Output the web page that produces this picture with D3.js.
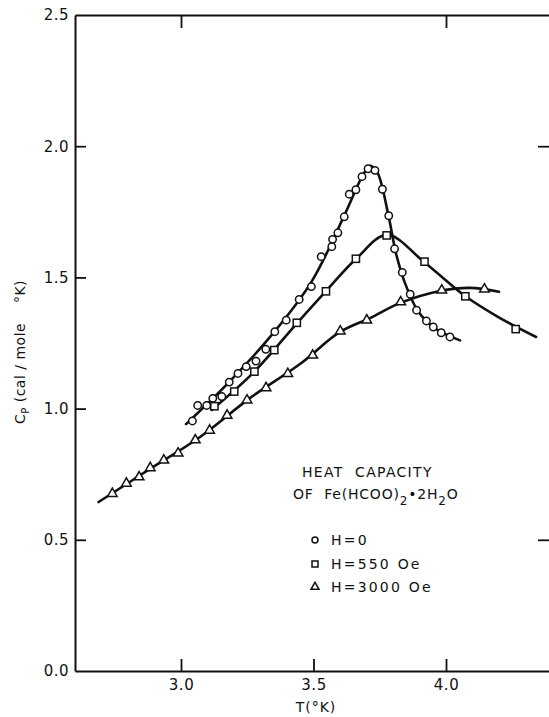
<!DOCTYPE html>
<html>
<head>
<meta charset="utf-8">
<script src="https://cdn.jsdelivr.net/npm/d3@7"></script>
<style>
  html, body { margin: 0; padding: 0; background: #fff; }
  svg { display: block; }
  text { font-family: "DejaVu Sans", sans-serif; fill: #111; }
</style>
</head>
<body>
<svg id="chart" width="549" height="717"></svg>
<script>
// ---- data ----
// H = 0 (circles)
const tH0  = [3.043,3.063,3.097,3.120,3.154,3.182,3.215,3.246,3.283,3.320,3.354,3.397,3.446,3.492,3.529,3.569,3.572,3.592,3.616,3.635,3.660,3.683,3.706,3.732,3.760,3.784,3.806,3.835,3.865,3.889,3.926,3.952,3.982,4.015];
const cpH0 = [0.953,1.012,1.012,1.039,1.046,1.101,1.134,1.160,1.181,1.226,1.293,1.337,1.416,1.465,1.579,1.617,1.645,1.670,1.731,1.817,1.834,1.884,1.914,1.908,1.836,1.735,1.609,1.519,1.436,1.375,1.334,1.311,1.289,1.273];
// H = 550 Oe (squares)
const tH550  = [3.126,3.201,3.277,3.352,3.437,3.547,3.660,3.776,3.919,4.073,4.263];
const cpH550 = [1.009,1.065,1.141,1.223,1.327,1.447,1.571,1.660,1.560,1.428,1.303];
// H = 3000 Oe (triangles)
const tH3000  = [2.741,2.794,2.842,2.884,2.935,2.989,3.054,3.108,3.174,3.249,3.321,3.403,3.497,3.601,3.701,3.829,3.984,4.145];
const cpH3000 = [0.676,0.715,0.739,0.774,0.803,0.830,0.880,0.917,0.974,1.032,1.079,1.133,1.203,1.295,1.337,1.406,1.451,1.455];

// hand-drawn smooth curves through each series
const curveTH0  = [3.019,3.185,3.355,3.494,3.619,3.683,3.713,3.740,3.781,3.811,3.845,3.894,3.958,4.053];
const curveCH0  = [0.941,1.105,1.296,1.486,1.742,1.883,1.925,1.902,1.745,1.593,1.479,1.372,1.306,1.260];
const curveTH550 = [3.116,3.275,3.438,3.547,3.660,3.777,3.917,4.072,4.204,4.340];
const curveCH550 = [0.995,1.139,1.326,1.448,1.570,1.662,1.559,1.429,1.345,1.273];
const curveTH3000 = [2.689,2.883,3.072,3.260,3.449,3.600,3.713,3.826,3.977,4.091,4.200];
const curveCH3000 = [0.644,0.770,0.892,1.040,1.170,1.292,1.345,1.402,1.448,1.460,1.445];

// axes
const xDomain = [2.6, 4.4];
const yDomain = [0, 2.5];
const xTicks = [3.0, 3.5, 4.0];
const xTopTicks = [3.0, 4.0];
const yTicks = [0.0, 0.5, 1.0, 1.5, 2.0, 2.5];
const yRightTicks = [0.5, 2.0];
const legendLabels = ["H=0", "H=550 Oe", "H=3000 Oe"];

// ---- drawing ----
const svg = d3.select("#chart");
const x = d3.scaleLinear().domain(xDomain).range([75, 552]);
const y = d3.scaleLinear().domain(yDomain).range([671, 15]);

function styleAxis(g) {
  g.select(".domain").attr("stroke", "#111").attr("stroke-width", 2);
  g.selectAll(".tick line").attr("stroke", "#111").attr("stroke-width", 1.8);
  g.selectAll(".tick text").attr("font-family", "DejaVu Sans").attr("font-size", 15)
    .attr("letter-spacing", "0.5px").attr("fill", "#111");
}

svg.append("g").attr("transform", "translate(0,671)")
  .call(d3.axisBottom(x).tickValues(xTicks).tickSizeInner(-12).tickSizeOuter(0)
        .tickPadding(8).tickFormat(d3.format(".1f")))
  .call(styleAxis);
svg.append("g").attr("transform", "translate(0,15)")
  .call(d3.axisTop(x).tickValues(xTopTicks).tickSizeInner(-13).tickSizeOuter(0).tickFormat(""))
  .call(styleAxis);
svg.append("g").attr("transform", "translate(75,0)")
  .call(d3.axisLeft(y).tickValues(yTicks).tickSizeInner(-11).tickSizeOuter(0)
        .tickPadding(6).tickFormat(d3.format(".1f")))
  .call(styleAxis)
  .call(g => g.selectAll(".tick line").filter(d => d === 0 || d === 2.5).remove());
svg.append("g").attr("transform", "translate(552,0)")
  .call(d3.axisRight(y).tickValues(yRightTicks).tickSizeInner(-14).tickSizeOuter(0).tickFormat(""))
  .call(styleAxis);

// curves
const line = d3.line().x(d => x(d[0])).y(d => y(d[1])).curve(d3.curveCatmullRom.alpha(0.5));
const curves = [
  d3.zip(curveTH0, curveCH0),
  d3.zip(curveTH550, curveCH550),
  d3.zip(curveTH3000, curveCH3000)
];
svg.append("g").selectAll("path").data(curves).join("path")
  .attr("d", line).attr("fill", "none").attr("stroke", "#111")
  .attr("stroke-width", 2.6).attr("stroke-linejoin", "round").attr("stroke-linecap", "round");

// markers
const mk = { fill: "#fff", stroke: "#111", sw: 1.5 };
svg.append("g").selectAll("circle").data(d3.zip(tH0, cpH0)).join("circle")
  .attr("cx", d => x(d[0])).attr("cy", d => y(d[1])).attr("r", 3.7)
  .attr("fill", mk.fill).attr("stroke", mk.stroke).attr("stroke-width", mk.sw);
svg.append("g").selectAll("rect").data(d3.zip(tH550, cpH550)).join("rect")
  .attr("x", d => x(d[0]) - 3.6).attr("y", d => y(d[1]) - 3.6)
  .attr("width", 7.2).attr("height", 7.2)
  .attr("fill", mk.fill).attr("stroke", mk.stroke).attr("stroke-width", mk.sw);
const tri = d3.symbol().type(d3.symbolTriangle).size(40);
svg.append("g").selectAll("path").data(d3.zip(tH3000, cpH3000)).join("path")
  .attr("d", tri).attr("transform", d => `translate(${x(d[0])},${y(d[1])})`)
  .attr("fill", mk.fill).attr("stroke", mk.stroke).attr("stroke-width", mk.sw);

// axis titles
svg.append("text").attr("x", 316).attr("y", 712).attr("text-anchor", "middle")
  .attr("font-size", 14).attr("letter-spacing", "1px").text("T(°K)");
const yt = svg.append("text").attr("transform", "translate(25,352) rotate(-90)")
  .attr("text-anchor", "middle").attr("font-size", 14).attr("letter-spacing", "0.5px")
  .style("white-space", "pre");
yt.append("tspan").text("C");
yt.append("tspan").attr("font-size", 10).attr("dy", 4).text("P");
yt.append("tspan").attr("dy", -4).text(" (cal / mole    °K)");

// legend / title
svg.append("text").attr("x", 302).attr("y", 477).attr("font-size", 14)
  .attr("letter-spacing", "1.3px").style("white-space", "pre").text("HEAT  CAPACITY");
const f = svg.append("text").attr("x", 293).attr("y", 499).attr("font-size", 14)
  .attr("letter-spacing", "0.8px").style("white-space", "pre");
f.append("tspan").text("OF  Fe(HCOO)");
f.append("tspan").attr("dy", 6).attr("font-size", 12).text("2");
f.append("tspan").attr("dy", -6).text("•2H");
f.append("tspan").attr("dy", 6).attr("font-size", 12).text("2");
f.append("tspan").attr("dy", -6).text("O");

const legY = [540, 564, 587];
const lg = svg.append("g");
lg.append("circle").attr("cx", 315).attr("cy", legY[0]).attr("r", 3)
  .attr("fill", "#fff").attr("stroke", "#111").attr("stroke-width", 1.5);
lg.append("rect").attr("x", 312).attr("y", legY[1] - 3).attr("width", 6).attr("height", 6)
  .attr("fill", "#fff").attr("stroke", "#111").attr("stroke-width", 1.5);
lg.append("path").attr("d", d3.symbol().type(d3.symbolTriangle).size(28))
  .attr("transform", `translate(315,${legY[2]})`)
  .attr("fill", "#fff").attr("stroke", "#111").attr("stroke-width", 1.5);
lg.selectAll("text").data(legendLabels).join("text")
  .attr("x", 331).attr("y", (d, i) => legY[i] + 5).attr("font-size", 14)
  .attr("letter-spacing", "2.2px").style("white-space", "pre").text(d => d);
</script>
</body>
</html>
